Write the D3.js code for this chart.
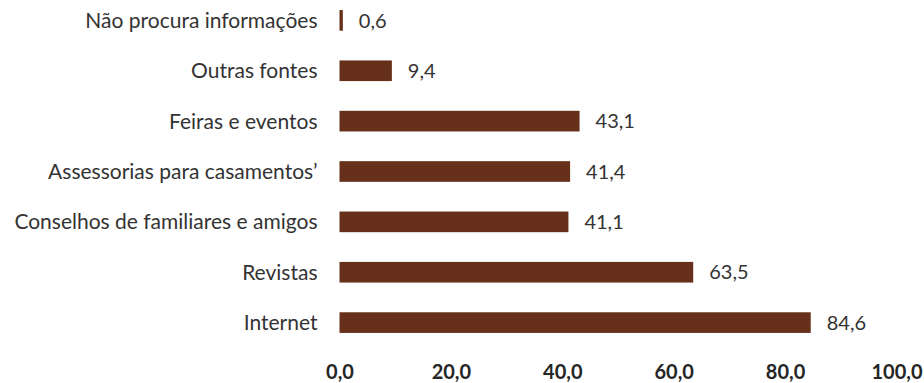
<!DOCTYPE html>
<html>
<head>
<meta charset="utf-8">
<script src="https://cdn.jsdelivr.net/npm/d3@7"></script>
<style>
  html, body { margin: 0; padding: 0; background: #ffffff; }
  svg { display: block; }
  text { font-family: Lato, "Open Sans", sans-serif; }
</style>
</head>
<body>
<svg id="chart" width="924" height="383"></svg>
<script>
// Fontes de informação usadas (%)
const categories = [
  "Não procura informações",
  "Outras fontes",
  "Feiras e eventos",
  "Assessorias para casamentos’",
  "Conselhos de familiares e amigos",
  "Revistas",
  "Internet"
];
const values = [0.6, 9.4, 43.1, 41.4, 41.1, 63.5, 84.6];
const tickValues = [0, 20, 40, 60, 80, 100];

const W = 924, H = 383;
const plotLeft = 339.5, plotRight = 896.5;

const svg = d3.select("#chart");
const fmt = v => v.toFixed(1).replace(".", ",");

const x = d3.scaleLinear().domain([0, 100]).range([plotLeft, plotRight]);
const y = d3.scaleBand()
  .domain(categories)
  .range([0, 343])
  .paddingInner(0.59)
  .paddingOuter(0.2);

const rows = categories.map((c, i) => ({ cat: c, val: values[i] }));

// Bars
svg.append("g")
  .selectAll("rect")
  .data(rows)
  .join("rect")
  .attr("x", x(0))
  .attr("y", d => y(d.cat))
  .attr("width", d => x(d.val) - x(0))
  .attr("height", y.bandwidth())
  .attr("fill", "#66301a");

// Value labels
svg.append("g")
  .selectAll("text")
  .data(rows)
  .join("text")
  .attr("x", d => x(d.val) + 16)
  .attr("y", d => y(d.cat) + y.bandwidth() / 2)
  .attr("dy", "0.36em")
  .attr("font-size", 20)
  .attr("fill", "#333333")
  .text(d => fmt(d.val));

// Category axis (left), no line or ticks
const yAxis = svg.append("g")
  .attr("transform", `translate(${plotLeft},0)`)
  .call(d3.axisLeft(y).tickSize(0).tickPadding(22));
yAxis.select(".domain").remove();
yAxis.selectAll("text")
  .attr("font-size", 21)
  .attr("font-family", "Lato, 'Open Sans', sans-serif")
  .attr("fill", "#333333")
  .attr("dy", "0.36em");

// Value axis (bottom), labels only
const xAxis = svg.append("g")
  .attr("transform", `translate(0,${H - 4})`)
  .call(d3.axisBottom(x).tickValues(tickValues).tickFormat(fmt).tickSize(0).tickPadding(0));
xAxis.select(".domain").remove();
xAxis.selectAll("text")
  .attr("dy", 0)
  .attr("y", 0)
  .attr("font-size", 20)
  .attr("font-weight", "bold")
  .attr("font-family", "Lato, 'Open Sans', sans-serif")
  .attr("fill", "#262626");
</script>
</body>
</html>
